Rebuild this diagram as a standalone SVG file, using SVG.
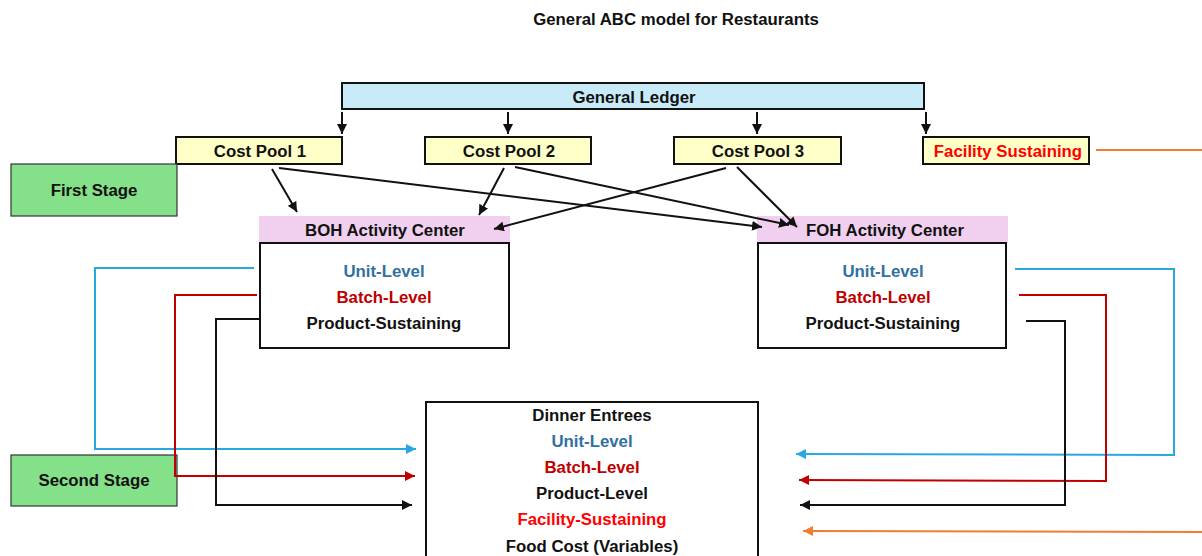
<svg xmlns="http://www.w3.org/2000/svg" width="1202" height="556" viewBox="0 0 1202 556">
  <style>
    text { font-family: "Liberation Sans", Arial, sans-serif; font-weight: bold; font-size: 16.8px; text-anchor: middle; fill: #111; }
    .box { stroke: #111; stroke-width: 2; }
    .ledger { fill: #c9ebf8; }
    .pool { fill: #ffffc8; }
    .stage { fill: #85e08a; stroke: #333; stroke-width: 1.2; }
    .hdr { fill: #f0d0ee; stroke: none; }
    .white { fill: #fff; }
    .unit { fill: #31709f; }
    .batch { fill: #c00000; }
    .fac { fill: #ff0000; }
    .ln { fill: none; stroke-width: 2; }
    .k { stroke: #111; }
    .b { stroke: #29a8e0; }
    .r { stroke: #c00000; }
    .o { stroke: #ed7d31; }
  </style>
  <defs>
    <marker id="ak" markerUnits="userSpaceOnUse" markerWidth="12" markerHeight="10" refX="10" refY="5" orient="auto"><path d="M0,0 L10,5 L0,10 z" fill="#111"/></marker>
    <marker id="ab" markerUnits="userSpaceOnUse" markerWidth="12" markerHeight="10" refX="10" refY="5" orient="auto"><path d="M0,0 L10,5 L0,10 z" fill="#29a8e0"/></marker>
    <marker id="ar" markerUnits="userSpaceOnUse" markerWidth="12" markerHeight="10" refX="10" refY="5" orient="auto"><path d="M0,0 L10,5 L0,10 z" fill="#c00000"/></marker>
    <marker id="ao" markerUnits="userSpaceOnUse" markerWidth="12" markerHeight="10" refX="10" refY="5" orient="auto"><path d="M0,0 L10,5 L0,10 z" fill="#ed7d31"/></marker>
  </defs>

  <text x="676" y="25">General ABC model for Restaurants</text>

  <g id="general-ledger">
    <rect class="box ledger" x="342" y="83" width="582" height="26"/>
    <text x="634" y="103">General Ledger</text>
  </g>

  <g id="cost-pool-1">
    <rect class="box pool" x="176" y="137" width="166" height="27"/>
    <text x="260" y="157">Cost Pool 1</text>
  </g>
  <g id="cost-pool-2">
    <rect class="box pool" x="425" y="137" width="166" height="27"/>
    <text x="509" y="157">Cost Pool 2</text>
  </g>
  <g id="cost-pool-3">
    <rect class="box pool" x="674" y="137" width="167" height="27"/>
    <text x="758" y="157">Cost Pool 3</text>
  </g>
  <g id="facility-sustaining">
    <rect class="box pool" x="923" y="137" width="166" height="27"/>
    <text class="fac" x="1008" y="157">Facility Sustaining</text>
  </g>

  <g id="first-stage">
    <rect class="stage" x="11" y="164" width="166" height="52"/>
    <text x="94" y="196">First Stage</text>
  </g>
  <g id="second-stage">
    <rect class="stage" x="11" y="455" width="166" height="51"/>
    <text x="94" y="486">Second Stage</text>
  </g>

  <g id="boh-activity-center">
    <rect class="hdr" x="259" y="216" width="251" height="27"/>
    <text x="385" y="236">BOH Activity Center</text>
    <rect class="box white" x="260" y="243" width="249" height="105"/>
    <text class="unit" x="384" y="277">Unit-Level</text>
    <text class="batch" x="384" y="303">Batch-Level</text>
    <text x="384" y="329">Product-Sustaining</text>
  </g>

  <g id="foh-activity-center">
    <rect class="hdr" x="757" y="216" width="251" height="27"/>
    <text x="885" y="236">FOH Activity Center</text>
    <rect class="box white" x="758" y="243" width="248" height="105"/>
    <text class="unit" x="883" y="277">Unit-Level</text>
    <text class="batch" x="883" y="303">Batch-Level</text>
    <text x="883" y="329">Product-Sustaining</text>
  </g>

  <g id="dinner-entrees">
    <rect class="box white" x="426" y="402" width="332" height="170"/>
    <text x="592" y="421">Dinner Entrees</text>
    <text class="unit" x="592" y="447">Unit-Level</text>
    <text class="batch" x="592" y="473">Batch-Level</text>
    <text x="592" y="499">Product-Level</text>
    <text class="fac" x="592" y="525">Facility-Sustaining</text>
    <text x="592" y="552">Food Cost (Variables)</text>
  </g>

  <g id="connectors">
    <!-- ledger to pools -->
    <line class="ln k" x1="342" y1="112" x2="342" y2="134" marker-end="url(#ak)"/>
    <line class="ln k" x1="508" y1="112" x2="508" y2="134" marker-end="url(#ak)"/>
    <line class="ln k" x1="757" y1="112" x2="757" y2="134" marker-end="url(#ak)"/>
    <line class="ln k" x1="926" y1="112" x2="926" y2="134" marker-end="url(#ak)"/>

    <!-- pools to activity centers -->
    <line class="ln k" x1="272" y1="169" x2="297" y2="212" marker-end="url(#ak)"/>
    <line class="ln k" x1="279" y1="168" x2="762" y2="227" marker-end="url(#ak)"/>
    <line class="ln k" x1="504" y1="168" x2="479" y2="215" marker-end="url(#ak)"/>
    <line class="ln k" x1="515" y1="167" x2="789" y2="225" marker-end="url(#ak)"/>
    <line class="ln k" x1="726" y1="168" x2="494" y2="229" marker-end="url(#ak)"/>
    <line class="ln k" x1="737" y1="167" x2="797" y2="227" marker-end="url(#ak)"/>

    <!-- BOH drivers to dinner entrees -->
    <polyline class="ln b" points="254,268 95,268 95,449 416,449" marker-end="url(#ab)"/>
    <polyline class="ln r" points="257,295 175,295 175,476 415,476" marker-end="url(#ar)"/>
    <polyline class="ln k" points="260,319 216,319 216,505 412,505" marker-end="url(#ak)"/>

    <!-- FOH drivers to dinner entrees -->
    <polyline class="ln b" points="1015,269 1174,269 1174,455 796,454" marker-end="url(#ab)"/>
    <polyline class="ln r" points="1019,295 1106,295 1106,481 799,480" marker-end="url(#ar)"/>
    <polyline class="ln k" points="1026,321 1065,321 1065,505 800,505" marker-end="url(#ak)"/>

    <!-- facility sustaining -->
    <line class="ln o" x1="1096" y1="150" x2="1202" y2="150"/>
    <line class="ln o" x1="1202" y1="532" x2="803" y2="531" marker-end="url(#ao)"/>
  </g>
</svg>
